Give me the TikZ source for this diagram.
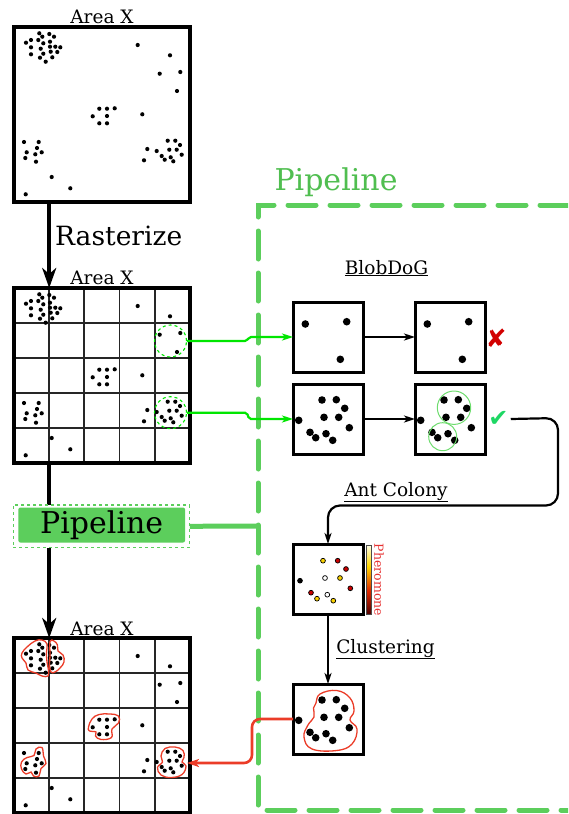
\documentclass[tikz,border=0pt]{standalone}
\usepackage{fontspec}
\setmainfont{DejaVu Serif}
\newfontfamily\symbfont{DejaVu Sans}
\usetikzlibrary{arrows.meta,calc}
\definecolor{pipegreen}{RGB}{92,206,92}
\definecolor{pipetext}{RGB}{80,190,80}
\definecolor{brightgreen}{RGB}{0,230,0}
\definecolor{softgreen}{RGB}{110,220,110}
\definecolor{clustred}{RGB}{235,60,40}
\definecolor{crossred}{RGB}{210,0,0}
\definecolor{checkgreen}{RGB}{30,215,100}
\definecolor{pheroyellow}{RGB}{250,210,0}
\definecolor{pherored}{RGB}{200,0,0}
\definecolor{pherotext}{RGB}{230,50,50}
\definecolor{barA}{RGB}{255,255,230}
\definecolor{barB}{RGB}{255,215,0}
\definecolor{barC}{RGB}{220,40,0}
\definecolor{barD}{RGB}{80,0,0}
\tikzset{
  areabox/.style={draw, line width=3.4pt, minimum width=176pt, minimum height=175pt, anchor=north west, inner sep=0pt, outer sep=0pt},
  smallbox/.style={draw, line width=3pt, minimum size=70pt, anchor=north west, inner sep=0pt, outer sep=0pt},
  gridline/.style={line width=1.8pt, black!85},
  lbl/.style={font=\fontsize{18.5}{20}\selectfont, inner sep=0pt, anchor=base},
  mainarrow/.style={line width=4.2pt, -{Stealth[length=20pt,width=14pt,inset=6pt]}},
  flow/.style={line width=2.2pt, -{Stealth[length=11pt,width=7pt,inset=3pt]}},
  greenflow/.style={line width=2.2pt, brightgreen, rounded corners=2pt, -{Stealth[length=11pt,width=7pt,inset=3pt]}},
  redflow/.style={line width=2.6pt, clustred, rounded corners=8pt, -{Stealth[length=12pt,width=8pt,inset=3pt]}},
  pipedash/.style={pipegreen, line width=5pt, line cap=round, dash pattern=on 28pt off 14pt},
  selcircle/.style={circle, draw=brightgreen, dashed, line width=1.1pt, minimum size=32pt, inner sep=0pt},
  blobline/.style={clustred, line width=1.3pt},
  antdot/.style={draw=black, line width=0.7pt},
}
\newcommand\areadots{%
  \foreach \x/\y in {26.0/42.7,31.0/40.0,39.3/33.3,42.3/36.7,49.3/34.0,54.0/36.7,38.3/40.0,43.3/43.3,50.0/41.7,31.0/47.3,40.7/48.7,50.0/46.7,55.3/46.7,60.3/47.3,57.3/52.0,31.0/54.3,43.3/53.7,50.7/51.7,40.0/57.7,52.3/57.3,45.7/61.7,
  137.7/45.0,170.0/55.3,159.7/73.7,180.3/72.0,177.0/91.0,142.3/114.3,
  99.3/108.7,107.0/108.7,114.7/108.3,92.7/116.3,107.0/116.0,99.3/123.3,107.0/123.3,
  24.0/142.0,38.7/142.0,37.0/148.0,26.7/152.3,41.7/152.3,35.3/154.3,25.3/158.0,36.0/161.7,
  167.7/140.7,175.3/140.7,180.0/145.0,147.3/149.0,156.7/151.0,169.3/149.7,176.7/149.7,161.7/156.0,170.7/157.3,181.7/154.7,164.7/159.7,173.3/161.3,144.0/160.3,
  51.7/177.0,70.3/188.3,25.7/194.3}{\fill (\x,\y) circle (2.1pt);}}
\newcommand\bigdotsthree{%
  \foreach \x/\y in {12.3/22,53.7/19.7,47.3/57.3}{\fill (\x,\y) circle (3.8pt);}}
\newcommand\bigdotsmany{%
  \foreach \x/\y in {29/16,43.3/15.7,51.7/24.3,31/33.3,45.7/33.3,5.7/36.3,56.3/43.7,17/48.3,33/49.7,22.7/53.7,39.7/56.3}{\fill (\x,\y) circle (3.8pt);}}
\newcommand\gridof[1]{%
  \foreach \i in {1,2,3,4}{%
    \draw[gridline] ($(#1.north west)!{\i/5}!(#1.north east)$) -- ($(#1.south west)!{\i/5}!(#1.south east)$);
    \draw[gridline] ($(#1.north west)!{\i/5}!(#1.south west)$) -- ($(#1.north east)!{\i/5}!(#1.south east)$);}}
\begin{document}
\begin{tikzpicture}[x=1pt,y=-1pt]
\useasboundingbox (0,0) rectangle (568,814);
\clip (0,0) rectangle (568,814);

% pipeline region
\draw[pipedash] (610,205) -- (258,205) -- (258,810) -- (610,810);
\node[inner sep=0pt, anchor=base, text=pipetext, font=\fontsize{30}{32}\selectfont] (pipetitle) at (336,190) {Pipeline};

% area boxes
\node[areabox] (A) at (14,27) {};
\node[areabox] (B) at (14,288) {};
\node[areabox] (C) at (14,638) {};
\gridof{B}
\gridof{C}
\draw[line width=3.4pt] (B.north west) rectangle (B.south east);
\draw[line width=3.4pt] (C.north west) rectangle (C.south east);
\node[lbl] (lA) at ($(A.north)+(0,-3.5)$) {Area X};
\node[lbl] (lB) at ($(B.north)+(0,-4)$) {Area X};
\node[lbl] (lC) at ($(C.north)+(0,-3)$) {Area X};
\areadots
\begin{scope}[shift={(0,261)}]\areadots\end{scope}
\begin{scope}[shift={(0,611)}]\areadots\end{scope}

% main arrows
\draw[mainarrow] ($(A.south west)!0.2!(A.south east)$) -- ($(B.north west)!0.2!(B.north east)$);
\node[inner sep=0pt, anchor=base west, font=\fontsize{26.5}{28}\selectfont] (rast) at (55,245) {Rasterize};
\draw[mainarrow] ($(B.south west)!0.2!(B.south east)$) -- ($(C.north west)!0.2!(C.north east)$);

% pipeline node
\node[draw=pipegreen, dashed, fill=white, line width=1.1pt, minimum width=176pt, minimum height=42.7pt, inner sep=0pt] (pipeO) at (101.3,526.3) {};
\node[fill=pipegreen, rounded corners=2pt, minimum width=166.7pt, minimum height=35pt, inner sep=0pt, font=\fontsize{30}{32}\selectfont] (pipe) at (101.7,525) {Pipeline};
\coordinate (pipeL) at (258,526);
\draw[pipegreen, line width=5pt] (pipeO.east) -- (pipeL);

% selection circles
\node[selcircle] (c1) at (170.5,341) {};
\node[selcircle] (c2) at (170.5,412.7) {};

% BlobDoG
\node[lbl] (blobdog) at (386.5,274) {\underline{BlobDoG}};
\node[smallbox] (b1) at (293,302) {};
\node[smallbox] (b2) at (293,384) {};
\node[smallbox] (b3) at (415,302) {};
\node[smallbox] (b4) at (415,384) {};
\begin{scope}[shift={(293,302)}]\bigdotsthree\end{scope}
\begin{scope}[shift={(415,302)}]\bigdotsthree\end{scope}
\begin{scope}[shift={(293,384)}]\bigdotsmany\end{scope}
\begin{scope}[shift={(415,384)}]\bigdotsmany
  \draw[softgreen, line width=1pt] (39,23.7) circle (16.7pt);
  \draw[softgreen, line width=1pt] (27.7,52.7) circle (14pt);
\end{scope}
\draw[greenflow] (c1.east) -- (247,341) -- (249,337) -- (b1.west);
\draw[greenflow] (c2.east) -- (247,412.7) -- (249,419) -- (b2.west);
\draw[flow] (b1) -- (b3);
\draw[flow] (b2) -- (b4);
\node[inner sep=0pt, text=crossred, font=\symbfont\fontsize{25}{27}\selectfont] (cross) at (496,338) {✘};
\node[inner sep=0pt, text=checkgreen, font=\symbfont\fontsize{24}{26}\selectfont] (check) at (498.5,419) {✔};

% Ant colony
\node[lbl] (antlbl) at (396,496) {\underline{Ant Colony}};
\node[smallbox] (ant) at (293,544) {};
\coordinate (turnA) at (558,418);
\coordinate (turnB) at (558,505.5);
\draw[flow, rounded corners=12pt] ($(check.east)+(2,0)$) -- (turnA) -- (turnB) -- (ant.north |- turnB) -- (ant.north);
\begin{scope}[shift={(293,544)}]
  \foreach \x/\y/\c in {30/16.7/pheroyellow,44.7/16.7/pherored,53/25/pherored,32/34/white,47/34/pheroyellow,7/36.7/black,57.3/44.3/pherored,18/48.7/pherored,34.3/50.7/white,24/54.7/pheroyellow,40.3/56.7/pheroyellow}{\filldraw[antdot, fill=\c] (\x,\y) circle (2.4pt);}
\end{scope}
\node[inner sep=0pt, minimum width=5pt, minimum height=21pt, top color=barA, bottom color=barB, anchor=north] (barone) at (368.5,545) {};
\node[inner sep=0pt, minimum width=5pt, minimum height=24pt, top color=barB, bottom color=barC, anchor=north] (bartwo) at (barone.south) {};
\node[inner sep=0pt, minimum width=5pt, minimum height=23pt, top color=barC, bottom color=barD, anchor=north] (barthree) at (bartwo.south) {};
\draw[line width=0.6pt, black!70] (barone.north west) rectangle (barthree.south east);
\node[inner sep=0pt, rotate=-90, text=pherotext, font=\fontsize{12.5}{14}\selectfont] (phero) at (379,580) {Pheromone};

% Clustering
\node[lbl] (clustlbl) at (385.5,653) {\underline{Clustering}};
\node[smallbox] (clust) at (293,684) {};
\draw[flow] (ant.south) -- (clust.north);
\begin{scope}[shift={(293,684)}]\bigdotsmany\end{scope}
\draw[blobline] plot[smooth cycle, tension=0.7] coordinates {(316,703) (320,694) (336.7,690.5) (350,698) (354,711) (350,720) (357,729) (352,744) (336.7,750.5) (312,749) (304,737) (308,725) (314,717) (313.5,708)};

% blobs in final area
\draw[blobline] plot[smooth cycle, tension=0.7] coordinates {(22,653) (27,647) (35,641) (42,640) (47,644) (46.5,652) (47,662) (48.5,670) (48,676) (42,676) (36,673) (28,670) (26,663) (22,658)};
\draw[blobline] plot[smooth cycle, tension=0.7] coordinates {(50,641.5) (54,641) (57.5,645) (58,651) (63,655) (64,662) (60,668) (55,672) (51,672) (49.5,665) (50,655)};
\draw[blobline] plot[smooth cycle, tension=0.7] coordinates {(88.5,727) (92,719) (99,714.5) (110,714) (118.5,716) (118.5,723) (112,729) (111.5,737.5) (101,739.5) (95.5,736) (96,732) (89.5,731)};
\draw[blobline] plot[smooth cycle, tension=0.7] coordinates {(21.5,762) (27,757.5) (34,755.5) (36,749) (42,747.5) (43.5,756) (46,763.5) (41,768.5) (39,776) (33.5,776) (31,772) (26,774) (21.5,769)};
\draw[blobline] plot[smooth cycle, tension=0.7] coordinates {(161,756) (165,748.5) (175,747) (183,750.5) (184,757.5) (182,762) (186,766) (182,774.5) (171,777.5) (161,775) (157.5,767.5) (162.5,762)};
\coordinate (blobE) at (187,763);
\draw[redflow] (clust.west) -- (252,719) -- (252,763) -- (blobE);
\end{tikzpicture}
\end{document}
